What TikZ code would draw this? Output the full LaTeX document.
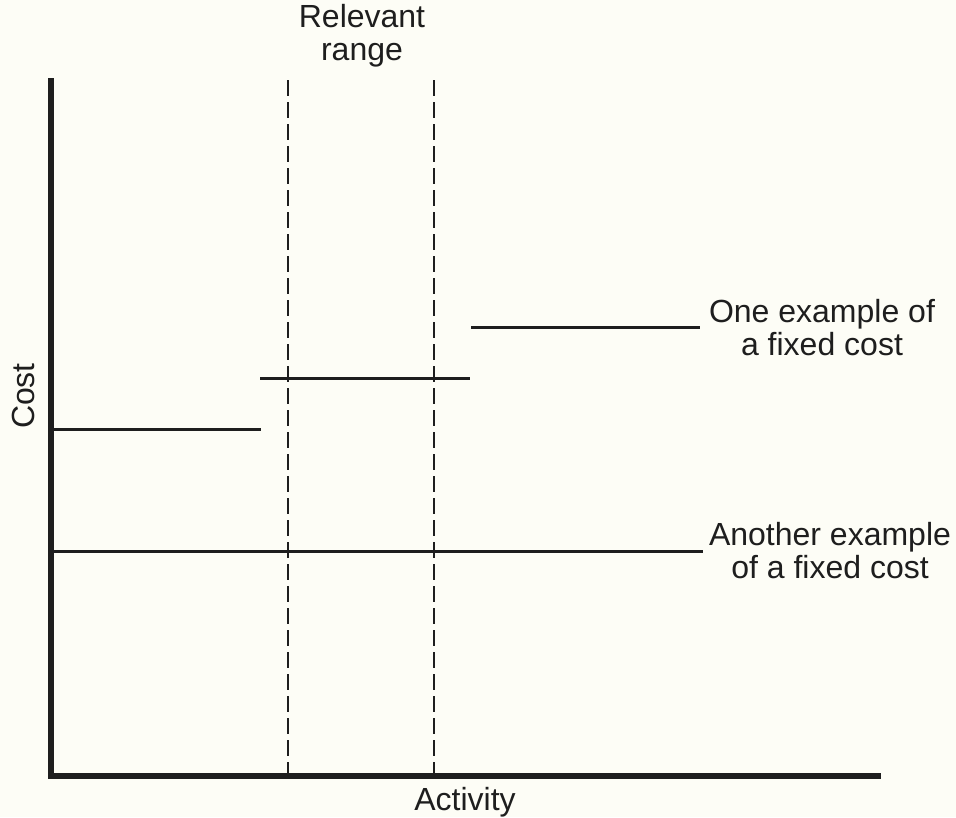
\documentclass[tikz,border=0pt]{standalone}
\usepackage{fontspec}
\setmainfont{Liberation Sans}
\definecolor{paper}{RGB}{253,253,246}
\definecolor{ink}{RGB}{30,30,30}
\begin{document}
\begin{tikzpicture}[x=1pt,y=-1pt,
  axisline/.style={line width=5.5pt,ink},
  costline/.style={line width=3pt,ink},
  rangeline/.style={line width=1.8pt,ink,dash pattern=on 16pt off 6pt},
  lbl/.style={font=\fontsize{32}{33}\selectfont,text=ink,align=center,inner sep=0pt}]
  \fill[paper] (0,0) rectangle (956,817);
  \useasboundingbox (0,0) rectangle (956,817);
  % axes
  \coordinate (ytop) at (51,78);
  \coordinate (origin) at (51,776);
  \coordinate (xstart) at (48.25,776);
  \coordinate (xend) at (881,776);
  \draw[axisline] (ytop) -- (origin);
  \draw[axisline] (xstart) -- (xend);
  % relevant range boundaries
  \coordinate (r1top) at (288,80);
  \coordinate (r1bot) at (288,774);
  \coordinate (r2top) at (434,80);
  \coordinate (r2bot) at (434,774);
  \draw[rangeline] (r1top) -- (r1bot);
  \draw[rangeline] (r2top) -- (r2bot);
  % stepped fixed cost
  \coordinate (s1a) at (52,429);
  \coordinate (s1b) at (261,429);
  \coordinate (s2a) at (260,378);
  \coordinate (s2b) at (470,378);
  \coordinate (s3a) at (471,327);
  \coordinate (s3b) at (700,327);
  \draw[costline] (s1a) -- (s1b);
  \draw[costline] (s2a) -- (s2b);
  \draw[costline] (s3a) -- (s3b);
  % flat fixed cost
  \coordinate (f1a) at (52,551);
  \coordinate (f1b) at (703,551);
  \draw[costline] (f1a) -- (f1b);
  % labels
  \node[lbl] (range) at (362,36) {Relevant\\range};
  \node[lbl] (one) at (822,328) {One example of\\a fixed cost};
  \node[lbl] (another) at (830,551) {Another example\\of a fixed cost};
  \node[lbl,rotate=90] (cost) at (23,396) {Cost};
  \node[lbl] (activity) at (465,802) {Activity};
\end{tikzpicture}
\end{document}
